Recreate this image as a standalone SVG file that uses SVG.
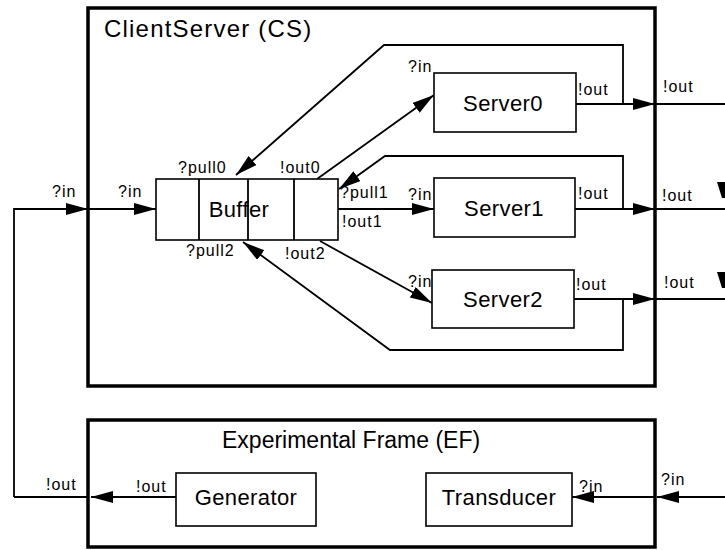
<svg xmlns="http://www.w3.org/2000/svg" width="725" height="550" viewBox="0 0 725 550">
  <style>
    .frame { fill: none; stroke: #000; stroke-width: 3.5; }
    .box { fill: #fff; stroke: #000; stroke-width: 1.6; }
    .wire { fill: none; stroke: #000; stroke-width: 1.8; }
    .title { font-family: "Liberation Sans", Arial, sans-serif; font-size: 23px; fill: #000; }
    .name { font-family: "Liberation Sans", Arial, sans-serif; font-size: 22px; letter-spacing: 0.4px; fill: #000; text-anchor: middle; }
    .port { font-family: "Liberation Sans", Arial, sans-serif; font-size: 16px; letter-spacing: 1px; fill: #000; }
  </style>
  <defs>
    <marker id="arrow" markerUnits="userSpaceOnUse" markerWidth="24" markerHeight="14" refX="22" refY="6" orient="auto">
      <polygon points="0,0 22,6 0,12" fill="#000"/>
    </marker>
  </defs>

  <rect width="725" height="550" fill="#fff"/>

  <!-- coupled models -->
  <g id="cs-frame">
    <rect class="frame" x="88" y="8" width="567" height="378"/>
    <text class="title" x="104" y="37" style="font-size:24px;letter-spacing:1.2px">ClientServer (CS)</text>
  </g>
  <g id="ef-frame">
    <rect class="frame" x="88" y="420" width="567" height="127"/>
    <text class="title" x="222" y="448">Experimental Frame (EF)</text>
  </g>

  <!-- connectors -->
  <g id="connectors">
    <!-- external input into CS -->
    <polyline class="wire" points="14,497 14,209 88,209" marker-end="url(#arrow)"/>
    <line class="wire" x1="88" y1="209" x2="156" y2="209" marker-end="url(#arrow)"/>
    <!-- buffer to servers -->
    <line class="wire" x1="317" y1="179" x2="434" y2="95" marker-end="url(#arrow)"/>
    <line class="wire" x1="338" y1="209" x2="434" y2="209" marker-end="url(#arrow)"/>
    <line class="wire" x1="320" y1="241" x2="432" y2="303" marker-end="url(#arrow)"/>
    <!-- server outputs to CS boundary -->
    <line class="wire" x1="576" y1="104" x2="655" y2="104" marker-end="url(#arrow)"/>
    <line class="wire" x1="655" y1="104" x2="725" y2="104"/>
    <line class="wire" x1="575" y1="209" x2="655" y2="209" marker-end="url(#arrow)"/>
    <line class="wire" x1="655" y1="209" x2="725" y2="209"/>
    <line class="wire" x1="574" y1="299" x2="655" y2="299" marker-end="url(#arrow)"/>
    <line class="wire" x1="655" y1="299" x2="725" y2="299"/>
    <!-- pull feedback -->
    <polyline class="wire" points="623,104 623,45 384,45 236,175" marker-end="url(#arrow)"/>
    <polyline class="wire" points="623,209 623,156 385,156 339,189" marker-end="url(#arrow)"/>
    <polyline class="wire" points="623,299 623,350 390,350 243,242" marker-end="url(#arrow)"/>
    <!-- off-page arrowheads at the right edge -->
    <polygon points="717,182 725,182 725,198 722,198" fill="#000"/>
    <polygon points="717,272 725,272 725,288 722,288" fill="#000"/>
    <!-- EF couplings -->
    <line class="wire" x1="725" y1="497" x2="657" y2="497" marker-end="url(#arrow)"/>
    <line class="wire" x1="655" y1="497" x2="572" y2="497" marker-end="url(#arrow)"/>
    <line class="wire" x1="176" y1="497" x2="91" y2="497" marker-end="url(#arrow)"/>
    <line class="wire" x1="88" y1="497" x2="14" y2="497"/>
  </g>

  <!-- atomic models -->
  <g id="buffer">
    <rect class="box" x="156" y="179" width="182" height="61"/>
    <line class="wire" x1="199" y1="179" x2="199" y2="240"/>
    <line class="wire" x1="248" y1="179" x2="248" y2="240"/>
    <line class="wire" x1="294" y1="179" x2="294" y2="240"/>
    <text class="name" x="239" y="217">Buffer</text>
  </g>
  <g id="server0">
    <rect class="box" x="434" y="73" width="142" height="59"/>
    <text class="name" x="503" y="111">Server0</text>
  </g>
  <g id="server1">
    <rect class="box" x="434" y="178" width="141" height="59"/>
    <text class="name" x="504" y="216">Server1</text>
  </g>
  <g id="server2">
    <rect class="box" x="432" y="270" width="142" height="58"/>
    <text class="name" x="503" y="307">Server2</text>
  </g>
  <g id="generator">
    <rect class="box" x="176" y="473" width="140" height="53"/>
    <text class="name" x="246" y="505">Generator</text>
  </g>
  <g id="transducer">
    <rect class="box" x="426" y="473" width="146" height="53"/>
    <text class="name" x="499" y="505">Transducer</text>
  </g>

  <!-- port labels -->
  <g id="ports">
    <text class="port" x="52" y="197">?in</text>
    <text class="port" x="118" y="197">?in</text>
    <text class="port" x="178" y="173">?pull0</text>
    <text class="port" x="280" y="173">!out0</text>
    <text class="port" x="340" y="198">?pull1</text>
    <text class="port" x="342" y="227">!out1</text>
    <text class="port" x="186" y="256">?pull2</text>
    <text class="port" x="285" y="259">!out2</text>
    <text class="port" x="408" y="72">?in</text>
    <text class="port" x="408" y="200">?in</text>
    <text class="port" x="408" y="287">?in</text>
    <text class="port" x="578" y="95">!out</text>
    <text class="port" x="578" y="199">!out</text>
    <text class="port" x="576" y="290">!out</text>
    <text class="port" x="663" y="92">!out</text>
    <text class="port" x="662" y="201">!out</text>
    <text class="port" x="664" y="288">!out</text>
    <text class="port" x="46" y="490">!out</text>
    <text class="port" x="136" y="492">!out</text>
    <text class="port" x="579" y="492">?in</text>
    <text class="port" x="661" y="485">?in</text>
  </g>
</svg>
